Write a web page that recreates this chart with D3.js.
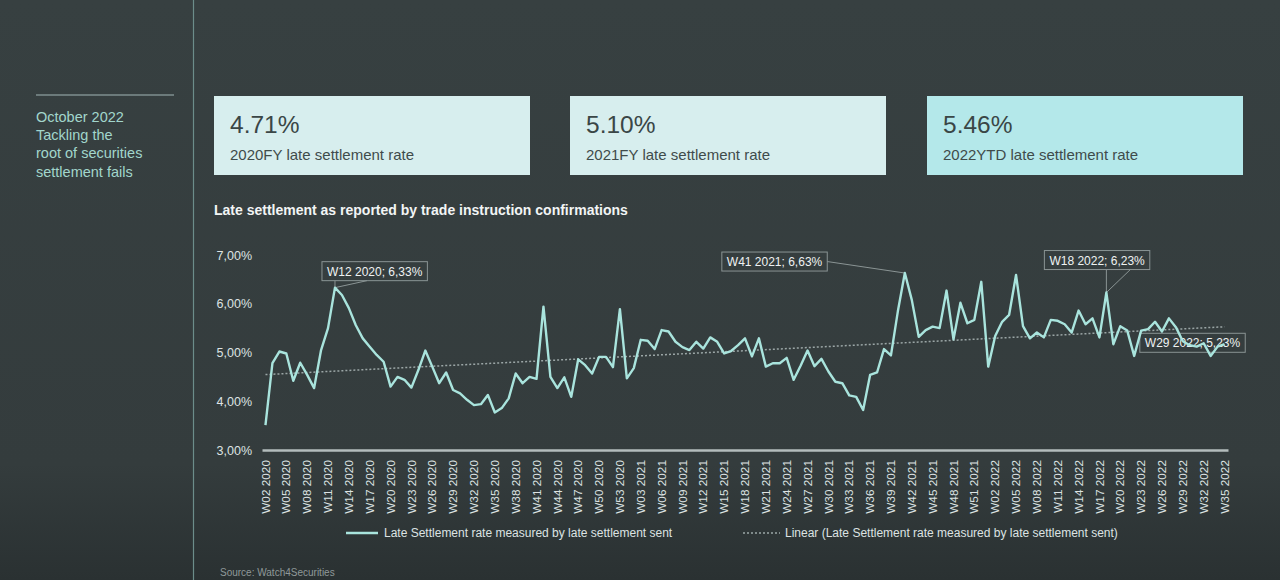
<!DOCTYPE html>
<html>
<head>
<meta charset="utf-8">
<script src="https://cdn.jsdelivr.net/npm/d3@7"></script>
<style>
  html, body { margin: 0; padding: 0; background: #353e3e; }
  svg { display: block; font-family: "Liberation Sans", Arial, sans-serif; }
</style>
</head>
<body>
<svg width="1280" height="580"></svg>
<script>
// ---- Dados
const years = [2020, 2021, 2022];
const firstWeek = [2, 1, 1];
const lastWeek = [53, 52, 35];
const categories = years.flatMap((y, k) =>
    d3.range(firstWeek[k], lastWeek[k] + 1).map(w => `W${String(w).padStart(2, '0')} ${y}`));

const lateRate = [
    3.51, 4.78, 5.02, 4.98, 4.42, 4.79, 4.54, 4.27, 5.05, 5.50,
    6.33, 6.18, 5.91, 5.56, 5.29, 5.12, 4.95, 4.81, 4.30, 4.50,
    4.44, 4.28, 4.64, 5.04, 4.71, 4.37, 4.59, 4.23, 4.16, 4.03,
    3.92, 3.94, 4.13, 3.77, 3.86, 4.06, 4.57, 4.37, 4.50, 4.46,
    5.94, 4.50, 4.27, 4.49, 4.09, 4.86, 4.74, 4.57, 4.91, 4.91,
    4.70, 5.89, 4.47, 4.68, 5.26, 5.24, 5.07, 5.46, 5.43, 5.22,
    5.11, 5.05, 5.22, 5.08, 5.31, 5.22, 4.98, 5.03, 5.15, 5.29,
    4.92, 5.29, 4.71, 4.78, 4.78, 4.89, 4.44, 4.73, 5.04, 4.72,
    4.87, 4.61, 4.40, 4.37, 4.12, 4.09, 3.82, 4.54, 4.59, 5.07,
    4.94, 5.85, 6.63, 6.08, 5.32, 5.46, 5.53, 5.50, 6.27, 5.27,
    6.02, 5.60, 5.67, 6.45, 4.71, 5.34, 5.63, 5.77, 6.59, 5.54,
    5.29, 5.41, 5.31, 5.67, 5.65, 5.58, 5.41, 5.86, 5.58, 5.70,
    5.31, 6.23, 5.17, 5.54, 5.45, 4.93, 5.45, 5.48, 5.63, 5.43,
    5.70, 5.52, 5.23, 5.15, 5.12, 5.19, 4.93, 5.12, 5.17
];

const yTicks = [3, 4, 5, 6, 7];
const xTicks = categories.filter((d, i) => i % 3 === 0);

const kpiValues = ['4.71%', '5.10%', '5.46%'];
const kpiLabels = ['2020FY late settlement rate', '2021FY late settlement rate', '2022YTD late settlement rate'];

const calloutWeeks = ['W12 2020', 'W41 2021', 'W18 2022', 'W29 2022'];

const introLines = ['October 2022', 'Tackling the', 'root of securities', 'settlement fails'];
const chartTitle = 'Late settlement as reported by trade instruction confirmations';
const legendLabels = ['Late Settlement rate measured by late settlement sent',
    'Linear (Late Settlement rate measured by late settlement sent)'];
const sourceText = 'Source: Watch4Securities';

// ---- Estilos / layout
const lineColor = '#a9e4dd';
const textColor = '#dde3e3';
const kpiX = [214, 570, 927];
const kpiFill = ['#d7eeee', '#d7eeee', '#b4e8ea'];
// deslocamento da caixa (canto sup. esq.) em relação ao ponto, e tipo de seta
const calloutLayout = [
    { dx: -13, dy: -26, ptr: 'wedge', a: 13, b: 45 },
    { dx: -183, dy: -21, ptr: 'side' },
    { dx: -62, dy: -42, ptr: 'wedge', a: 62, b: 86 },
    { dx: -43, dy: -8, ptr: 'none' }
];

const pct = d3.formatLocale({ decimal: ',', thousands: '.', grouping: [3], currency: ['', '%'] }).format('.2f');

const svg = d3.select('svg');

// fundo
const grad = svg.append('defs').append('linearGradient')
    .attr('id', 'bg').attr('x1', 0).attr('x2', 0).attr('y1', 0).attr('y2', 1);
grad.append('stop').attr('offset', '0%').attr('stop-color', '#374041');
grad.append('stop').attr('offset', '80%').attr('stop-color', '#343c3d');
grad.append('stop').attr('offset', '100%').attr('stop-color', '#2a3132');
svg.append('rect').attr('width', 1280).attr('height', 580).attr('fill', 'url(#bg)');

// ---- Painel esquerdo
svg.append('line')
    .attr('x1', 193.5).attr('x2', 193.5).attr('y1', 0).attr('y2', 580)
    .attr('stroke', '#6c8d8a').attr('stroke-width', 1.2);
svg.append('line')
    .attr('x1', 36).attr('x2', 174).attr('y1', 95).attr('y2', 95)
    .attr('stroke', '#7f8f8f').attr('stroke-width', 1.5);
svg.append('g').selectAll('text')
    .data(introLines)
    .join('text')
    .attr('x', 36)
    .attr('y', (d, i) => 122 + i * 18.2)
    .attr('fill', '#a2d6cc')
    .style('font-size', '14.5px')
    .text(d => d);

// ---- KPIs
const kpi = svg.append('g').selectAll('g')
    .data(kpiValues)
    .join('g')
    .attr('transform', (d, i) => `translate(${kpiX[i]}, 96)`);
kpi.append('rect')
    .attr('width', 316).attr('height', 79)
    .attr('fill', (d, i) => kpiFill[i]);
kpi.append('text')
    .attr('x', 16).attr('y', 37)
    .attr('fill', '#3a4646')
    .style('font-size', '24.5px')
    .text(d => d);
kpi.append('text')
    .attr('x', 16).attr('y', 64)
    .attr('fill', '#3f4b4b')
    .style('font-size', '15px')
    .text((d, i) => kpiLabels[i]);

// ---- Titulo
svg.append('text')
    .attr('x', 214).attr('y', 215)
    .attr('fill', '#f2f5f5')
    .style('font-size', '14px')
    .style('font-weight', 'bold')
    .text(chartTitle);

// ---- Escalas
const mapX = d3.scaleBand()
    .domain(categories)
    .range([262, 1228]);
const cx = d => mapX(d) + mapX.bandwidth() / 2;

const mapY = d3.scaleLinear()
    .domain([3, 7])
    .range([450, 255]);

const data = categories.map((c, i) => ({ x: c, y: lateRate[i] }));

// ---- Eixos
const yAxis = d3.axisLeft(mapY).tickValues(yTicks).tickSize(0).tickPadding(4).tickFormat(d => pct(d) + '%');
svg.append('g')
    .attr('transform', 'translate(256, 0)')
    .call(yAxis)
    .call(g => g.select('.domain').remove())
    .selectAll('text')
    .attr('fill', textColor)
    .style('font-size', '12.5px')
    .style('font-family', '"Liberation Sans", Arial, sans-serif');

const xAxis = d3.axisBottom(mapX).tickValues(xTicks).tickSize(0).tickSizeOuter(0);
svg.append('g')
    .attr('transform', 'translate(0, 450)')
    .call(xAxis)
    .call(g => g.select('.domain').attr('stroke', '#b3bcbc').attr('stroke-width', 2.5))
    .selectAll('text')
    .attr('transform', 'rotate(-90)')
    .attr('text-anchor', 'end')
    .attr('x', -10)
    .attr('y', 0)
    .attr('dy', '0.35em')
    .attr('fill', textColor)
    .style('font-size', '11.8px')
    .style('font-family', '"Liberation Sans", Arial, sans-serif');

// ---- Tendencia linear (minimos quadrados)
const n = data.length;
const xs = d3.range(n);
const mx = d3.mean(xs), my = d3.mean(lateRate);
const slope = d3.sum(xs, i => (i - mx) * (lateRate[i] - my)) / d3.sum(xs, i => (i - mx) ** 2);
const icept = my - slope * mx;
svg.append('line')
    .attr('x1', cx(categories[0])).attr('y1', mapY(icept))
    .attr('x2', cx(categories[n - 1])).attr('y2', mapY(icept + slope * (n - 1)))
    .attr('stroke', '#9ba6a6')
    .attr('stroke-width', 1.5)
    .attr('stroke-dasharray', '2,2');

// ---- Chamadas (callouts)
const calloutData = calloutWeeks.map((w, k) => {
    const i = categories.indexOf(w);
    return { x: cx(w), y: mapY(lateRate[i]), text: `${w}; ${pct(lateRate[i])}%`, ...calloutLayout[k] };
});
const call = svg.append('g').selectAll('g')
    .data(calloutData)
    .join('g');
call.each(function (d) {
    const g = d3.select(this);
    const t = g.append('text')
        .attr('x', d.x + d.dx + 5)
        .attr('y', d.y + d.dy + 14)
        .attr('fill', '#eef2f2')
        .style('font-size', '12px')
        .text(d.text);
    const w = t.node().getComputedTextLength() + 10;
    const bx = d.x + d.dx, by = d.y + d.dy, bh = 19;
    g.insert('rect', 'text')
        .attr('x', bx).attr('y', by).attr('width', w).attr('height', bh)
        .attr('fill', 'none').attr('stroke', '#8a9494').attr('stroke-width', 1);
    if (d.ptr === 'wedge') {
        g.append('path')
            .attr('d', `M${bx + d.a},${by + bh}L${d.x},${d.y}L${bx + d.b},${by + bh}`)
            .attr('fill', 'none').attr('stroke', '#8a9494');
    } else if (d.ptr === 'side') {
        g.append('path')
            .attr('d', `M${bx + w},${by + bh / 2}L${d.x},${d.y}`)
            .attr('fill', 'none').attr('stroke', '#8a9494');
    }
});

// ---- Linha
const line = d3.line()
    .x(d => cx(d.x))
    .y(d => mapY(d.y));
svg.append('path')
    .datum(data)
    .attr('d', line)
    .attr('fill', 'none')
    .attr('stroke', lineColor)
    .attr('stroke-width', 2.4)
    .attr('stroke-linejoin', 'round');

// ---- Legenda
const leg = svg.append('g').style('font-size', '12px');
leg.append('line')
    .attr('x1', 346).attr('x2', 378).attr('y1', 533).attr('y2', 533)
    .attr('stroke', lineColor).attr('stroke-width', 2.5);
leg.append('text')
    .attr('x', 384).attr('y', 537)
    .attr('fill', textColor)
    .text(legendLabels[0]);
leg.append('line')
    .attr('x1', 743).attr('x2', 780).attr('y1', 533).attr('y2', 533)
    .attr('stroke', '#9ba6a6').attr('stroke-width', 1.5).attr('stroke-dasharray', '2,2');
leg.append('text')
    .attr('x', 785).attr('y', 537)
    .attr('fill', textColor)
    .text(legendLabels[1]);

svg.append('text')
    .attr('x', 220).attr('y', 576)
    .attr('fill', '#8f9999')
    .style('font-size', '10px')
    .text(sourceText);
</script>
</body>
</html>
